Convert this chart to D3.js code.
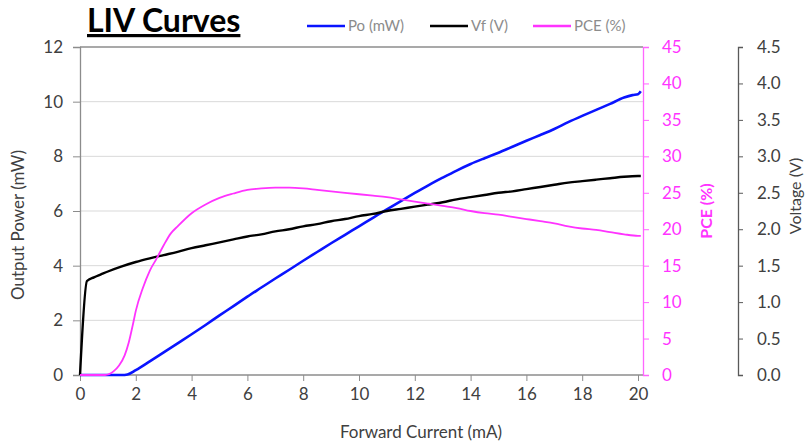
<!DOCTYPE html>
<html><head><meta charset="utf-8">
<script src="https://cdn.jsdelivr.net/npm/d3@7"></script>
<style>
html,body{margin:0;padding:0;background:#fff;}
svg{display:block;font-family:Lato, "Open Sans", sans-serif;}
</style></head>
<body><svg id="c" width="807" height="444"></svg>
<script>
// ---- data ----
const title = "LIV Curves";
const xTicks = [0,2,4,6,8,10,12,14,16,18,20];
const poTicks = [0,2,4,6,8,10,12];
const pceTicks = [0,5,10,15,20,25,30,35,40,45];
const vTicks = [0,0.5,1,1.5,2,2.5,3,3.5,4,4.5];
const seriesNames = ["Po (mW)", "Vf (V)", "PCE (%)"];

const poCurrent = [0,0.5,1,1.5,1.7,2,2.5,3,3.5,4,4.5,5,5.5,6,6.5,7,7.5,8,8.5,9,9.5,10,10.5,11,11.5,12,12.5,13,13.5,14,14.5,15,15.5,16,16.5,17,17.5,18,18.5,19,19.5,19.8,20,20.1];
const poValues  = [0,0,0,0,0.02,0.18,0.5,0.83,1.16,1.49,1.83,2.18,2.52,2.87,3.2,3.53,3.85,4.18,4.5,4.82,5.13,5.44,5.75,6.06,6.36,6.66,6.95,7.22,7.48,7.72,7.93,8.13,8.35,8.57,8.78,9.0,9.25,9.48,9.7,9.92,10.15,10.24,10.27,10.38];

const vfCurrent = [0,0.25,0.5,0.75,1,1.5,2,2.5,3,3.5,4,4.5,5,5.5,6,6.5,7,7.5,8,8.5,9,9.5,10,10.5,11,11.5,12,12.5,13,13.5,14,14.5,15,15.5,16,16.5,17,17.5,18,18.5,19,19.5,20,20.1];
const vfValues  = [0,1.29,1.34,1.38,1.42,1.49,1.55,1.6,1.645,1.69,1.74,1.78,1.82,1.86,1.9,1.93,1.97,2.0,2.04,2.07,2.11,2.14,2.18,2.21,2.25,2.28,2.31,2.34,2.37,2.41,2.44,2.47,2.5,2.52,2.55,2.58,2.61,2.64,2.66,2.68,2.7,2.72,2.73,2.73];

const pceCurrent = [0,0.5,0.9,1.2,1.4,1.6,1.75,1.9,2,2.25,2.5,2.75,3,3.25,3.5,4,4.5,5,5.5,6,6.5,7,7.5,8,8.5,9,9.5,10,10.5,11,11.5,12,12.5,13,13.5,14,14.5,15,15.5,16,16.5,17,17.5,18,18.5,19,19.5,20,20.1];
const pceValues  = [0,0,0,0.5,1.3,2.7,4.5,7.0,8.8,11.9,14.3,16.0,17.8,19.4,20.4,22.2,23.4,24.3,24.9,25.4,25.6,25.7,25.7,25.6,25.4,25.2,25.0,24.8,24.6,24.4,24.1,23.8,23.5,23.2,22.9,22.5,22.2,22.0,21.7,21.4,21.1,20.8,20.4,20.1,19.9,19.6,19.3,19.1,19.1];

// ---- layout ----
const svg = d3.select("#c");
const L = 80, R = 643, T = 47, B = 375;
const x = d3.scaleLinear().domain([0,20]).range([L,638]);
const yPo = d3.scaleLinear().domain([0,12]).range([B,T]);
const yPce = d3.scaleLinear().domain([0,45]).range([B,T]);
const yV = d3.scaleLinear().domain([0,4.5]).range([B,T]);
const txt = "#404040";
const tickFont = "17px";

// gridlines
svg.append("g").selectAll("line").data(poTicks.filter(d=>d>0 && d<12)).join("line")
  .attr("x1",L).attr("x2",R).attr("y1",d=>yPo(d)).attr("y2",d=>yPo(d))
  .attr("stroke","#d9d9d9").attr("stroke-width",1);
svg.append("line").attr("x1",L).attr("x2",R).attr("y1",T).attr("y2",T).attr("stroke","#8c8c8c").attr("stroke-width",1.3);

// x axis
const xAxis = svg.append("g").attr("transform",`translate(0,${B})`)
  .call(d3.axisBottom(x).tickValues(xTicks).tickSize(6).tickPadding(7).tickFormat(d3.format("d")));
xAxis.select(".domain").remove();
xAxis.append("line").attr("x1",L).attr("x2",R).attr("stroke","#8c8c8c").attr("stroke-width",1.3);
xAxis.selectAll(".tick line").attr("stroke","#8c8c8c");
xAxis.selectAll("text").attr("fill",txt).style("font-size",tickFont).style("font-family","Lato");

// left axis
const yAxisL = svg.append("g").attr("transform",`translate(${L},0)`)
  .call(d3.axisLeft(yPo).tickValues(poTicks).tickSize(7).tickPadding(10).tickFormat(d3.format("d")));
yAxisL.select(".domain").attr("stroke","#8c8c8c").attr("stroke-width",1.3);
yAxisL.selectAll(".tick line").attr("stroke","#8c8c8c");
yAxisL.selectAll("text").attr("fill",txt).style("font-size",tickFont).style("font-family","Lato");

// PCE axis
const yAxisP = svg.append("g").attr("transform",`translate(${R},0)`)
  .call(d3.axisRight(yPce).tickValues(pceTicks).tickSize(6).tickPadding(13).tickFormat(d3.format("d")));
yAxisP.select(".domain").attr("stroke","#ff66ff").attr("stroke-width",1.3);
yAxisP.selectAll(".tick line").attr("stroke","#ff66ff");
yAxisP.selectAll("text").attr("fill","#ff33ff").style("font-size",tickFont).style("font-family","Lato");

// Voltage axis
const yAxisV = svg.append("g").attr("transform",`translate(738,0)`)
  .call(d3.axisRight(yV).tickValues(vTicks).tickSize(5).tickPadding(14).tickFormat(d3.format(".1f")));
yAxisV.select(".domain").attr("stroke","#595959").attr("stroke-width",1.3);
yAxisV.selectAll(".tick line").attr("stroke","#595959");
yAxisV.selectAll("text").attr("fill",txt).style("font-size",tickFont).style("font-family","Lato");

// axis titles
svg.append("text").attr("x",421).attr("y",438).attr("text-anchor","middle")
  .attr("fill",txt).style("font-size","17px").text("Forward Current (mA)");
svg.append("text").attr("transform","translate(24,225) rotate(-90)").attr("text-anchor","middle")
  .attr("fill",txt).style("font-size","17px").text("Output Power (mW)");
svg.append("text").attr("transform","translate(712,211) rotate(-90)").attr("text-anchor","middle")
  .attr("fill","#ff33ff").style("font-size","16px").style("font-weight","bold").text("PCE (%)");
svg.append("text").attr("transform","translate(801,196) rotate(-90)").attr("text-anchor","middle")
  .attr("fill",txt).style("font-size","16px").text("Voltage (V)");

// lines
const mk = (xs, ys, ysc) => xs.map((c,i)=>[x(c), ysc(ys[i])]);
const line = d3.line().curve(d3.curveMonotoneX);
svg.append("path").attr("d",line(mk(poCurrent,poValues,yPo))).attr("fill","none").attr("stroke","#0a14ff").attr("stroke-width",2.6).attr("stroke-linejoin","round");
svg.append("path").attr("d",line(mk(vfCurrent,vfValues,yV))).attr("fill","none").attr("stroke","#000").attr("stroke-width",2.4).attr("stroke-linejoin","round");
svg.append("path").attr("d",line(mk(pceCurrent,pceValues,yPce))).attr("fill","none").attr("stroke","#ff33ff").attr("stroke-width",1.8).attr("stroke-linejoin","round");

// title
svg.append("text").attr("x",87).attr("y",32).attr("fill","#000")
  .style("font-size","32px").style("font-weight","bold").style("text-decoration","underline").text(title);

// legend
const legColors = ["#0a14ff","#000","#ff33ff"];
const legX = [307,430,533];
const lg = svg.append("g").selectAll("g").data(seriesNames).join("g")
  .attr("transform",(d,i)=>`translate(${legX[i]},26)`);
lg.append("line").attr("x1",0).attr("x2",38).attr("stroke",(d,i)=>legColors[i]).attr("stroke-width",2.4);
lg.append("text").attr("x",41).attr("y",5).attr("fill","#8c8c8c").style("font-size","15px").text(d=>d);
</script></body></html>
